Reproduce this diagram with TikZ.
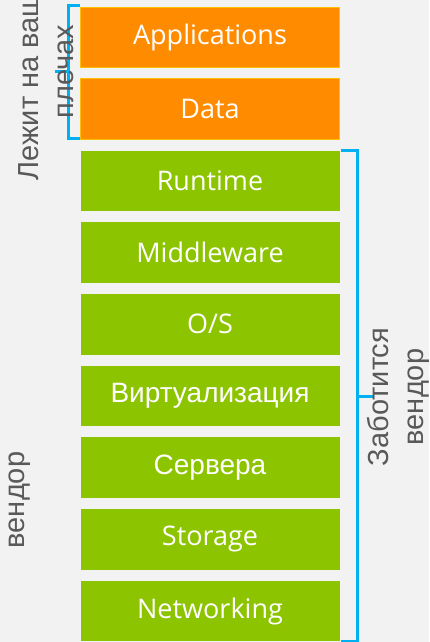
\documentclass[tikz,border=0pt]{standalone}
\usepackage{fontspec}
\setmainfont{Liberation Sans}
\newfontfamily\boxfont{Open Sans}
\usetikzlibrary{positioning, calc}
\definecolor{BgGray}{HTML}{F2F2F2}
\definecolor{UserOrange}{HTML}{FF8C00}
\definecolor{UserEdge}{HTML}{FFC000}
\definecolor{VendGreen}{HTML}{8DC400}
\definecolor{BraceCyan}{HTML}{00B0F0}
\definecolor{NoteGray}{HTML}{595959}

\begin{document}
\begin{tikzpicture}[
        x=1pt, y=-1pt,
        node distance=11.2pt,
        layer/.style={rectangle, fill=VendGreen, text=white, minimum width=259pt, minimum height=60.5pt, outer sep=0pt, inner sep=0pt, font=\boxfont\fontsize{27}{32}\selectfont},
        cyrlayer/.style={layer, font=\fontsize{28}{34}\selectfont},
        own/.style={layer, fill=UserOrange, draw=UserEdge, line width=1pt},
        brace/.style={BraceCyan, line width=3pt},
        note/.style={text=NoteGray, align=center, rotate=90, font=\fontsize{29}{35}\selectfont}
    ]
        \path[use as bounding box, fill=BgGray] (0,0) rectangle (429,642);
        \clip (0,0) rectangle (429,642);

        \node[own] (app) at (210,37.5) {Applications};
        \node[own, below=of app] (data) {Data};
        \node[layer, below=of data] (rt) {Runtime};
        \node[layer, below=of rt] (mw) {Middleware};
        \node[layer, below=of mw] (os) {O/S};
        \node[cyrlayer, below=of os] (virt) {Виртуализация};
        \node[cyrlayer, below=of virt] (srv) {Сервера};
        \node[layer, below=of srv] (stor) {Storage};
        \node[layer, below=of stor] (net) {Networking};

        \coordinate (lb1) at ([xshift=-1pt,yshift=2pt]app.north west);
        \coordinate (lb2) at ([xshift=-1pt,yshift=1pt]data.south west);
        \coordinate (lm) at ($(lb1)!.5!(lb2)+(-11,0)$);
        \draw[brace] (lb1) -- ++(-11,0) |- (lb2);
        \draw[brace] (lm) -- ++(-14,0);

        \coordinate (rb1) at ([xshift=1pt]rt.north east);
        \coordinate (rb2) at ([xshift=1pt]net.south east);
        \coordinate (rm) at ($(rb1)!.5!(rb2)+(17,0)$);
        \draw[brace] (rb1) -- ++(17,0) |- (rb2);
        \draw[brace] (rm) -- ++(15,0);

        \node[note] (mine) at ($(lm)+(-22.5,0)$) {Лежит на ваших\\плечах};
        \node[note] (theirs) at ($(rm)+(40.5,1)$) {Заботится\\вендор};
        \node[note] (stray) at (20,500) {вендор};
    \end{tikzpicture}
\end{document}
